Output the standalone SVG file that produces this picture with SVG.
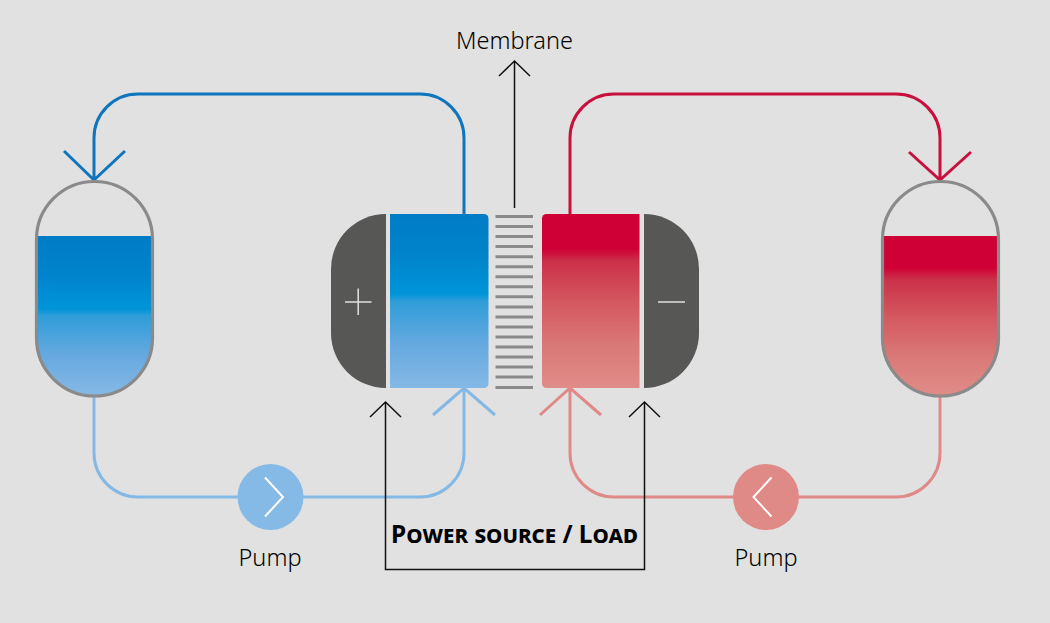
<svg xmlns="http://www.w3.org/2000/svg" width="1050" height="623" viewBox="0 0 1050 623">
<style>
.t{font-family:"Noto Sans","Open Sans","Liberation Sans",sans-serif;font-weight:300;fill:#000}
.pipe{fill:none;stroke-width:3}
.blk{fill:none;stroke:#111;stroke-width:1.5}
.db{stroke:#0f75bc}.lb{stroke:#85b9e5}.dr{stroke:#c8103f}.lr{stroke:#df8a86}
.shell{fill:none;stroke:#8a8a8a;stroke-width:3.200}
.el{fill:#575756}
.sym{fill:none;stroke:#e1e1e1;stroke-width:1.500}
.chev{fill:none;stroke:#fff;stroke-width:2}
.mem{stroke:#8a8a8a;stroke-width:3}
</style>
<defs>
<linearGradient id="gb" x1="0" y1="0" x2="0" y2="1">
<stop offset="0" stop-color="#007cc6"/><stop offset=".25" stop-color="#0084cc"/><stop offset=".46" stop-color="#0095d8"/><stop offset=".5" stop-color="#2f9dd9"/><stop offset=".75" stop-color="#66a9df"/><stop offset="1" stop-color="#85b9e6"/>
</linearGradient>
<linearGradient id="gr" x1="0" y1="0" x2="0" y2="1">
<stop offset="0" stop-color="#cf0035"/><stop offset=".2" stop-color="#cf0035"/><stop offset=".27" stop-color="#cb3049"/><stop offset=".5" stop-color="#d4575f"/><stop offset=".75" stop-color="#d97877"/><stop offset="1" stop-color="#e08c88"/>
</linearGradient>
</defs>
<rect width="1050" height="623" fill="#e1e1e1"/>
<g id="connectors">
<path class="pipe db" d="M464 214V138A44 44 0 0 0 420 94H138A44 44 0 0 0 94 138V180M64 151L94 180L125 151"/>
<path class="pipe dr" d="M570 214V138A44 44 0 0 1 614 94H896A44 44 0 0 1 940 138V180M909 152L940 180L971 152"/>
<path class="pipe lb" d="M94 396V453A44 44 0 0 0 138 497H420A44 44 0 0 0 464 453V388M433 415L464 388L495 415"/>
<path class="pipe lr" d="M940 396V453A44 44 0 0 1 896 497H614A44 44 0 0 1 570 453V388M540 415L570 388L601 415"/>
<path class="blk" d="M385.500 402V569.500H644.500V402M370 417L385.500 402L401 417M629 417L644.500 402L660 417"/>
<path class="blk" d="M514.500 208V61M499 76L514.500 61L530 76"/>
</g>
<g id="tank-left">
<path d="M37 236H152V338A57.500 57.500 0 0 1 37 338Z" fill="url(#gb)"/>
<path class="shell" d="M36.500 239.500A58 58 0 0 1 152.500 239.500V338A58 58 0 0 1 36.500 338Z"/>
</g>
<g id="tank-right">
<path d="M883 236H998V338A57.500 57.500 0 0 1 883 338Z" fill="url(#gr)"/>
<path class="shell" d="M882.500 239.500A58 58 0 0 1 998.500 239.500V338A58 58 0 0 1 882.500 338Z"/>
</g>
<g id="electrode-plus">
<path class="el" d="M386 214V388A55 55 0 0 1 331 333V269A55 55 0 0 1 386 214Z"/>
<path class="sym" d="M345 302H371.500M358.200 288.500V315"/>
</g>
<g id="cell-blue">
<path d="M390 214H484A4.500 4.500 0 0 1 488.500 218.500V383.500A4.500 4.500 0 0 1 484 388H390Z" fill="url(#gb)"/>
</g>
<g id="membrane">
<path class="mem" d="M495.500 216.500H533M495.500 226.500H533M495.500 236.600H533M495.500 246.600H533M495.500 256.700H533M495.500 266.700H533M495.500 276.700H533M495.500 286.800H533M495.500 296.800H533M495.500 306.900H533M495.500 316.900H533M495.500 326.900H533M495.500 337H533M495.500 347H533M495.500 357.100H533M495.500 367.100H533M495.500 377.100H533M495.500 387.500H533"/>
</g>
<g id="cell-red">
<path d="M639.500 214H546.500A4.500 4.500 0 0 0 542 218.500V383.500A4.500 4.500 0 0 0 546.500 388H639.500Z" fill="url(#gr)"/>
</g>
<g id="electrode-minus">
<path class="el" d="M644 214V388A55 55 0 0 0 699 333V269A55 55 0 0 0 644 214Z"/>
<path class="sym" d="M658 302H685"/>
</g>
<g id="pump-left">
<circle cx="270.500" cy="497" r="33" fill="#85b9e6"/>
<path class="chev" d="M265 477.500L283 497L265 516.500"/>
<text class="t" x="270" y="566" font-size="23.500" text-anchor="middle">Pump</text>
</g>
<g id="pump-right">
<circle cx="766" cy="497" r="33" fill="#df8a86"/>
<path class="chev" d="M771.500 477.500L753.500 497L771.500 516.500"/>
<text class="t" x="766" y="566" font-size="23.500" text-anchor="middle">Pump</text>
</g>
<g id="labels">
<text class="t" x="514.500" y="49" font-size="23.500" text-anchor="middle">Membrane</text>
<text x="514.500" y="543" font-family="Noto Sans,Open Sans,Liberation Sans,sans-serif" font-weight="700" font-size="24.400" text-anchor="middle" fill="#000" style="font-variant:small-caps">Power source / Load</text>
</g>
</svg>
